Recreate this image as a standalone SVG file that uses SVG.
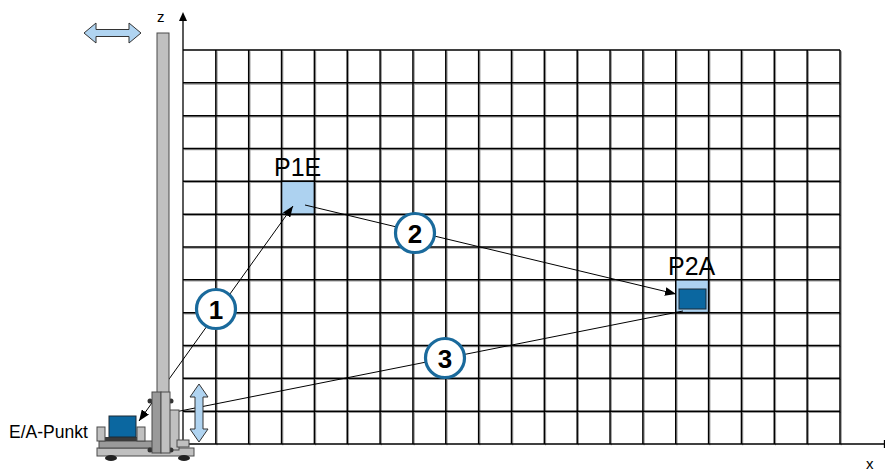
<svg xmlns="http://www.w3.org/2000/svg" width="885" height="471" viewBox="0 0 885 471">
  <style>
    text { font-family: "Liberation Sans", Arial, sans-serif; fill: #000; }
    .grid { fill: none; stroke: #000; stroke-width: 1.5; }
    .gridshadow { fill: none; stroke: #9a9a9a; stroke-width: 1.2; }
    .axis { fill: none; stroke: #000; stroke-width: 1.3; }
    .route { fill: none; stroke: #000; stroke-width: 1; }
    .badge { fill: #fff; stroke: #1a6a9c; stroke-width: 3.2; }
    .num { font-size: 26px; font-weight: bold; text-anchor: middle; }
    .lbl { font-size: 25px; }
    .move { fill: #b0d4f1; stroke: #333; stroke-width: 1; }
    .steel { fill: #c0c0c0; stroke: #4a4a4a; stroke-width: 1; }
    .steeldark { fill: #9a9a9a; stroke: #4a4a4a; stroke-width: 1; }
    .load { fill: #0b67a0; stroke: #1d2a35; stroke-width: 1; }
  </style>
  <defs>
    <marker id="head" viewBox="0 0 10 8" refX="10" refY="4" markerWidth="11" markerHeight="9" markerUnits="userSpaceOnUse" orient="auto-start-reverse">
      <path d="M0,0 L10,4 L0,8 z" fill="#000"/>
    </marker>
  </defs>

  <!-- storage rack grid: 20 columns x 12 rows -->
  <g id="rack">
    <path class="gridshadow" transform="translate(1.2,1.2)" d="M215.85,50V444 M248.7,50V444 M281.55,50V444 M314.4,50V444 M347.25,50V444 M380.1,50V444 M412.95,50V444 M445.8,50V444 M478.65,50V444 M511.5,50V444 M544.35,50V444 M577.2,50V444 M610.05,50V444 M642.9,50V444 M675.75,50V444 M708.6,50V444 M741.45,50V444 M774.3,50V444 M807.15,50V444 M840,50V444 M183,82.83H840 M183,115.66H840 M183,148.49H840 M183,181.32H840 M183,214.15H840 M183,246.98H840 M183,279.81H840 M183,312.64H840 M183,345.47H840 M183,378.3H840 M183,411.13H840"/>
    <path class="grid" d="M215.85,50V444 M248.7,50V444 M281.55,50V444 M314.4,50V444 M347.25,50V444 M380.1,50V444 M412.95,50V444 M445.8,50V444 M478.65,50V444 M511.5,50V444 M544.35,50V444 M577.2,50V444 M610.05,50V444 M642.9,50V444 M675.75,50V444 M708.6,50V444 M741.45,50V444 M774.3,50V444 M807.15,50V444 M840,50V444 M183,50H840 M183,82.83H840 M183,115.66H840 M183,148.49H840 M183,181.32H840 M183,214.15H840 M183,246.98H840 M183,279.81H840 M183,312.64H840 M183,345.47H840 M183,378.3H840 M183,411.13H840"/>
  </g>

  <!-- axes -->
  <g id="axes">
    <path class="axis" d="M183,444V19"/>
    <path d="M183,12 L187,21 L179,21 z" fill="#000"/>
    <path class="axis" d="M183,444H890"/>
    <path class="axis" d="M884.5,440V448"/>
    <text x="157" y="22" font-size="15">z</text>
    <text x="866" y="469" font-size="15">x</text>
  </g>

  <!-- storage positions -->
  <g id="p1e">
    <rect x="281.55" y="181.32" width="32.85" height="32.83" fill="#add2f0" stroke="#000" stroke-width="1.5"/>
    <text class="lbl" x="274" y="176">P1E</text>
  </g>
  <g id="p2a">
    <rect x="675.75" y="279.81" width="32.85" height="32.83" fill="#add2f0" stroke="#000" stroke-width="1.5"/>
    <rect class="load" x="679" y="289" width="27" height="20"/>
    <text class="lbl" x="668" y="275">P2A</text>
  </g>

  <!-- travel routes -->
  <g id="routes">
    <path class="route" d="M139,421 L293,206" marker-start="url(#head)" marker-end="url(#head)"/>
    <path class="route" d="M305,205 L676,294" marker-end="url(#head)"/>
    <path class="route" d="M683,311 L175,412"/>
  </g>

  <!-- route numbers -->
  <g id="step1"><circle class="badge" cx="216" cy="309" r="19.5"/><text class="num" x="216" y="318.5">1</text></g>
  <g id="step2"><circle class="badge" cx="415" cy="233" r="19.5"/><text class="num" x="415" y="242.5">2</text></g>
  <g id="step3"><circle class="badge" cx="445" cy="358" r="19.5"/><text class="num" x="445" y="367.5">3</text></g>

  <!-- stacker crane -->
  <g id="crane">
    <polygon class="move" points="84,33 96,23 96,29.5 129,29.5 129,23 141,33 129,43 129,36.5 96,36.5 96,43"/>
    <polygon class="move" points="199,384 208,397 203,397 203,429 208,429 199,442 190,429 195,429 195,397 190,397"/>
    <rect class="steel" x="157" y="33" width="12" height="420"/>
    <rect class="steel" x="97" y="448" width="97" height="8"/>
    <ellipse cx="111" cy="458" rx="6" ry="3" fill="#222"/>
    <ellipse cx="184" cy="458" rx="6" ry="3" fill="#222"/>
    <rect class="steeldark" x="99" y="441" width="60" height="7"/>
    <rect x="104" y="437" width="35" height="4" fill="#3a3a3a"/>
    <rect class="steel" x="97" y="427" width="8" height="14"/>
    <rect class="steel" x="137" y="427" width="8" height="14"/>
    <rect class="load" x="109" y="416" width="27" height="21"/>
    <rect class="steel" x="169" y="410" width="10" height="40"/>
    <rect class="steel" x="177" y="440" width="12" height="7"/>
    <circle cx="150" cy="401" r="2.5" fill="#333"/>
    <circle cx="171" cy="401" r="2.5" fill="#333"/>
    <circle cx="150" cy="450" r="2.5" fill="#333"/>
    <circle cx="171" cy="450" r="2.5" fill="#333"/>
    <rect class="steeldark" x="152" y="392" width="9" height="61"/>
    <rect class="steel" x="161" y="392" width="9" height="61"/>
  </g>

  <g id="io-point">
    <text x="9" y="438" font-size="17.5">E/A-Punkt</text>
  </g>
</svg>
